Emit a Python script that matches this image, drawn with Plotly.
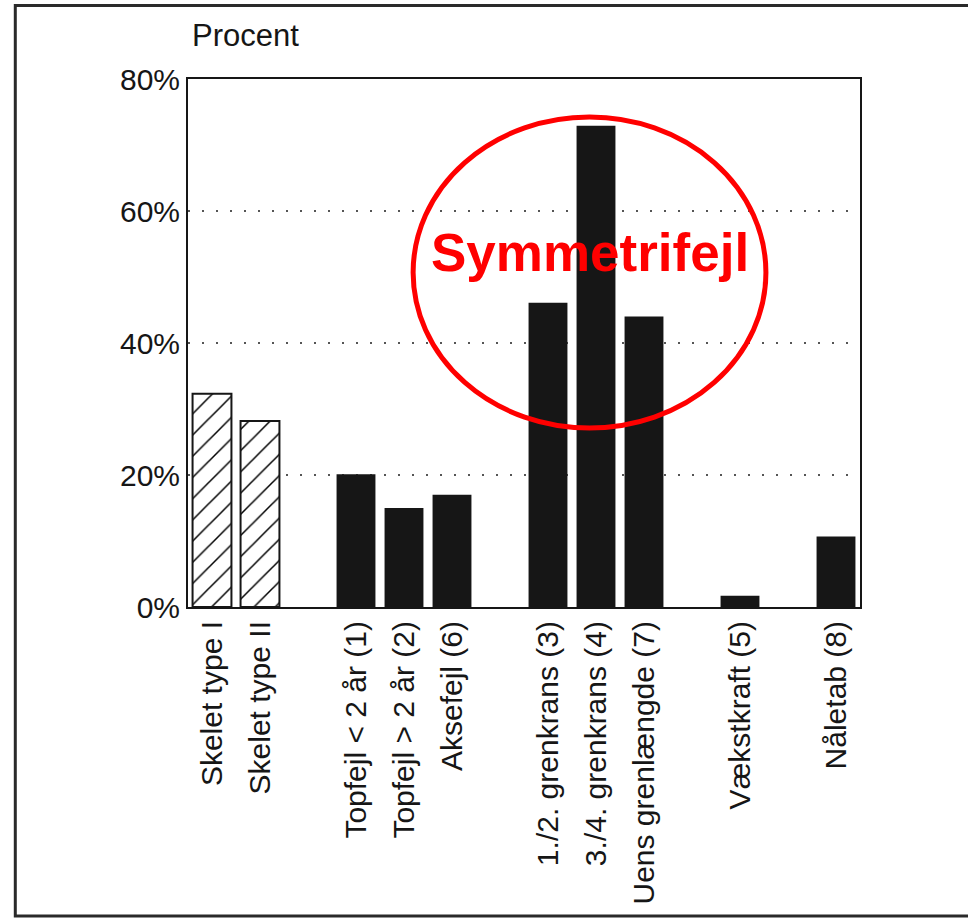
import plotly.graph_objects as go

# ---- data ----
slot_order = ["Skelet type I", "Skelet type II", " ",
              "Topfejl < 2 år (1)", "Topfejl > 2 år (2)", "Aksefejl (6)", "  ",
              "1./2. grenkrans (3)", "3./4. grenkrans (4)", "Uens grenlængde (7)", "   ",
              "Vækstkraft (5)", "    ", "Nåletab (8)"]
skelet_labels = ["Skelet type I", "Skelet type II"]
skelet_values = [32.3, 28.2]
defect_labels = ["Topfejl < 2 år (1)", "Topfejl > 2 år (2)", "Aksefejl (6)",
                 "1./2. grenkrans (3)", "3./4. grenkrans (4)", "Uens grenlængde (7)",
                 "Vækstkraft (5)", "Nåletab (8)"]
defect_values = [20.1, 15.0, 17.0, 46.1, 72.9, 44.0, 1.7, 10.7]
y_ticks = [0, 20, 40, 60, 80]
y_ticktext = ["0%", "20%", "40%", "60%", "80%"]

FONT = "Liberation Sans, Arial, Helvetica, sans-serif"
INK = "#161616"

fig = go.Figure()
fig.add_trace(go.Bar(
    x=skelet_labels, y=skelet_values,
    marker=dict(color="white", line=dict(color=INK, width=2),
                pattern=dict(shape="/", fgcolor="#000000", fgopacity=1, bgcolor="white",
                             size=15, solidity=0.1)),
    showlegend=False, hoverinfo="x+y"))
fig.add_trace(go.Bar(
    x=defect_labels, y=defect_values,
    marker=dict(color=INK, line=dict(width=0)),
    showlegend=False, hoverinfo="x+y"))

fig.update_layout(
    width=968, height=920,
    margin=dict(l=188, r=108, t=79, b=313),
    paper_bgcolor="white", plot_bgcolor="white",
    barmode="overlay", bargap=0.19,
    font=dict(family=FONT, color=INK, size=30),
    xaxis=dict(type="category", categoryorder="array", categoryarray=slot_order,
               range=[-0.5, len(slot_order) - 0.5],
               tickangle=-90, ticks="", showgrid=False,
               showline=True, linecolor=INK, linewidth=2, mirror=True,
               tickfont=dict(size=30, color=INK)),
    yaxis=dict(range=[0, 80], tickvals=y_ticks, ticktext=y_ticktext, ticks="",
               showgrid=True, gridcolor="#555555", gridwidth=1.5, griddash="2px,12px",
               showline=True, linecolor=INK, linewidth=2, mirror=True, zeroline=False,
               tickfont=dict(size=30, color=INK)),
    annotations=[
        dict(text="Procent", xref="paper", yref="paper", x=0.003, y=1.083,
             xanchor="left", yanchor="middle", showarrow=False,
             font=dict(size=31, color=INK, family=FONT)),
        dict(text="Symmetrifejl", xref="paper", yref="paper", x=0.598, y=0.671,
             xanchor="center", yanchor="middle", showarrow=False,
             font=dict(size=53, color="#ff0000", family=FONT, weight="bold")),
    ],
    shapes=[
        dict(type="circle", xref="paper", yref="paper",
             x0=0.335, x1=0.860, y0=0.339, y1=0.928,
             line=dict(color="#ff0000", width=5), layer="above"),
        # outer frame: top, left and bottom sides only (no right side in the reference)
        dict(type="path", xref="paper", yref="paper",
             path="M 1.2,1.139 L -0.257,1.139 L -0.257,-0.585 L 1.2,-0.585",
             line=dict(color="#2a2a2a", width=3), layer="above"),
    ],
)

fig.write_html("out.html", config={"displayModeBar": False},
               post_script="document.body.style.margin='0';document.body.style.padding='0';")
